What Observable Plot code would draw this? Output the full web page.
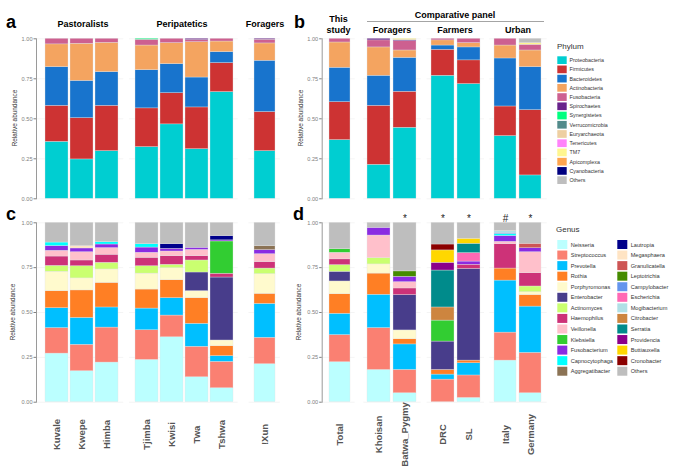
<!DOCTYPE html>
<html><head><meta charset="utf-8">
<script src="https://cdn.jsdelivr.net/npm/d3@7"></script>
<script src="https://cdn.jsdelivr.net/npm/@observablehq/plot@0.6"></script>
<style>
body{margin:0;background:#fff;font-family:"Liberation Sans",Arial,sans-serif}
#chart{position:relative;width:685px;height:469px;overflow:hidden}
#chart svg{position:absolute;left:0;top:0}
</style>
</head><body><div id="chart"></div>
<script>
// ---------- categories ----------
const pastoralists = ["Kuvale","Kwepe","Himba"];
const peripatetics = ["Tjimba","Kwisi","Twa","Tshwa"];
const foragersStudy = ["!Xun"];
const thisStudy = ["Total"];
const comparativeForagers = ["Khoisan","Batwa_Pygmy"];
const farmers = ["DRC","SL"];
const urban = ["Italy","Germany"];
const populations = [...pastoralists, ...peripatetics, ...foragersStudy];
const comparatives = [...thisStudy, ...comparativeForagers, ...farmers, ...urban];
const sigSamples = ["Batwa_Pygmy","DRC","SL","Italy","Germany"];
const sigMarks = ["*","*","*","#","*"];
const yTicks = [0, 0.25, 0.5, 0.75, 1];

const phyla = ["Proteobacteria","Firmicutes","Bacteroidetes","Actinobacteria","Fusobacteria","Spirochaetes","Synergistetes","Verrucomicrobia","Euryarchaeota","Tenericutes","TM7","Apicomplexa","Cyanobacteria","Others"];
const phylumColors = ["#00CED1","#CD3333","#1874CD","#F4A460","#CD6090","#68228B","#00FF7F","#528B8B","#EECFA1","#FF83FA","#FFF68F","#FFA54F","#000080","#BEBEBE"];

const genera = ["Neisseria","Streptococcus","Prevotella","Rothia","Porphyromonas","Enterobacter","Actinomyces","Haemophilus","Veillonella","Klebsiella","Fusobacterium","Capnocytophaga","Aggregatibacter","Lautropia","Megasphaera","Granulicatella","Leptotrichia","Campylobacter","Escherichia","Mogibacterium","Citrobacter","Serratia","Providencia","Buttiauxella","Cronobacter","Others"];
const genusColors = ["#BBFFFF","#FA8072","#00BFFF","#FF7F24","#FFFACD","#483D8B","#CAFF70","#CD3278","#FFC0CB","#32CD32","#8A2BE2","#00FFFF","#8B7355","#00008B","#FFE4C4","#CD5555","#458B00","#6495ED","#FF69B4","#B0E0E6","#CD853F","#008B8B","#8B008B","#FFD700","#8B0000","#BEBEBE"];

// ---------- values (rows aligned with sample lists, columns with taxa lists) ----------
const phylumPopulations = [
  [.356,.225,.242,.142,.035,0,0,0,0,0,0,0,0,0],   // Kuvale
  [.246,.258,.233,.232,.031,0,0,0,0,0,0,0,0,0],   // Kwepe
  [.298,.283,.211,.183,.025,0,0,0,0,0,0,0,0,0],   // Himba
  [.323,.242,.239,.154,.036,0,.006,0,0,0,0,0,0,0],// Tjimba
  [.465,.195,.182,.131,.027,0,0,0,0,0,0,0,0,0],   // Kwisi
  [.310,.261,.187,.221,.013,.008,0,0,0,0,0,0,0,0],// Twa
  [.667,.181,.069,.066,.017,0,0,0,0,0,0,0,0,0],   // Tshwa
  [.298,.244,.321,.108,.023,.006,0,0,0,0,0,0,0,0] // !Xun
];
const phylumComparatives = [
  [.367,.237,.215,.158,.023,0,0,0,0,0,0,0,0,0],     // Total
  [.2125,.3685,.188,.177,.044,.010,0,0,0,0,0,0,0,0],// Khoisan
  [.444,.225,.212,.046,.058,.007,0,0,0,0,.008,0,0,0],// Batwa_Pygmy
  [.769,.162,.027,.032,.010,0,0,0,0,0,0,0,0,0],     // DRC
  [.717,.148,.081,.027,.027,0,0,0,0,0,0,0,0,0],     // SL
  [.392,.185,.300,.081,.042,0,0,0,0,0,0,0,0,0],     // Italy
  [.146,.408,.269,.104,.0355,0,0,0,0,0,.0105,0,0,.027] // Germany
];
const genusPopulations = [
  [.271,.142,.111,.095,.108,0,.033,.052,.032,0,.026,.020,0,0,0,0,0,0,0,0,0,0,0,0,0,.110], // Kuvale
  [.173,.147,.150,.153,.067,0,.068,.032,.046,0,.021,0,0,0,.013,0,0,0,0,0,0,0,0,0,0,.130], // Kwepe
  [.221,.195,.112,.137,.075,0,.037,.045,.037,0,.020,.013,0,0,0,0,0,0,0,0,0,0,0,0,0,.108], // Himba
  [.236,.165,.121,.106,.089,0,.041,.047,.028,0,.029,.019,0,0,0,0,0,0,0,0,0,0,0,0,0,.119], // Tjimba
  [.362,.121,.097,.100,.067,0,.019,.048,.026,0,.015,0,0,.026,0,0,0,0,0,0,0,0,0,0,0,.119], // Kwisi
  [.139,.170,.128,.143,.039,.104,.067,.024,.035,0,.012,0,0,0,0,0,0,0,0,0,0,0,0,0,0,.139], // Twa
  [.078,.147,.032,.055,.032,.351,0,.021,0,.180,.006,0,0,.024,0,0,0,0,0,0,0,0,0,0,0,.074], // Tshwa
  [.212,.147,.189,.056,.110,0,.031,.036,.044,0,.023,0,.022,0,0,0,0,0,0,0,0,0,0,0,0,.130]  // !Xun
];
const genusComparatives = [
  [.223,.151,.119,.109,.071,.054,.037,.032,.037,.020,0,0,0,0,0,0,0,0,0,0,0,0,0,0,0,.147], // Total
  [.180,.233,.186,.118,.051,0,.035,0,.126,0,.043,0,0,0,0,0,0,0,0,0,0,0,0,0,0,.028],      // Khoisan
  [.050,.130,.142,.029,.049,.197,0,.037,.035,0,.030,0,0,0,0,0,.030,0,0,0,0,0,0,0,0,.271],// Batwa_Pygmy
  [0,.126,.028,.026,0,.158,0,0,0,.117,0,0,0,0,0,0,0,0,0,0,.073,.206,.043,.069,.033,.121],// DRC
  [.024,.125,.068,.015,0,.511,0,.023,0,0,.018,0,0,0,0,0,0,0,.047,0,0,.052,0,.028,0,.089],// SL
  [.232,.156,.290,.067,0,0,0,.136,.013,0,.032,.011,0,0,0,0,0,.007,0,.010,0,0,0,0,0,.046],// Italy
  [.050,.225,.258,.064,.016,0,.032,.074,.117,0,.022,0,0,0,0,.025,0,0,0,0,0,0,0,0,0,.117] // Germany
];

// ---------- build ----------
function toRows(samples, matrix, taxa) {
  return samples.flatMap((s, i) => taxa.map((t, j) => ({sample: s, taxon: t, value: matrix[i][j]}))).filter(d => d.value > 0);
}
const phylumRowsPop = toRows(populations, phylumPopulations, phyla);
const phylumRowsCmp = toRows(comparatives, phylumComparatives, phyla);
const genusRowsPop = toRows(populations, genusPopulations, genera);
const genusRowsCmp = toRows(comparatives, genusComparatives, genera);
const sigRows = sigSamples.map((s, i) => ({sample: s, mark: sigMarks[i]}));

const chart = document.getElementById("chart");
const BW = 23.3;
const FONT = "'Liberation Sans', Arial, sans-serif";

function groupPlot({samples, rows, taxa, colors, top, bottom, x0, step, axisLeft = null, xLabels = false, sig = false}) {
  const n = samples.length;
  const x1 = x0 + step * n - (step - BW);
  const data = rows.filter(d => samples.includes(d.sample));
  const marks = [
    Plot.gridY(yTicks, {stroke: "#ededed", strokeOpacity: 1, strokeWidth: 0.6}),
    Plot.barY(data, {x: "sample", y: "value", fill: "taxon", stroke: "#e2e2e2", strokeWidth: 0.35})
  ];
  if (axisLeft != null) {
    marks.push(Plot.axisY({ticks: yTicks, tickFormat: d3.format(".2f"), tickSize: 2.5, tickPadding: 1.5, fontSize: 5.6, color: "#808080", label: null}));
    marks.push(Plot.frame({anchor: "left", stroke: "#808080", strokeWidth: 0.8}));
  }
  if (xLabels) {
    marks.push(Plot.axisX({tickSize: 0, tickRotate: -90, textAnchor: "middle", lineAnchor: "middle", tickPadding: 32.3, fontSize: 9.5, fontWeight: "bold", fill: "#555", label: null}));
  }
  if (sig) {
    const s = sigRows.filter(d => samples.includes(d.sample));
    marks.push(Plot.text(s, {x: "sample", text: "mark", frameAnchor: "top", dy: -8, fontSize: 10, fill: "#222"}));
  }
  const svg = Plot.plot({
    width: 685, height: 469,
    marginTop: top, marginBottom: 469 - bottom,
    marginLeft: axisLeft != null ? axisLeft : x0 - 4,
    marginRight: 685 - x1 - 4,
    x: {type: "band", domain: samples, range: [x0, x1], paddingInner: (step - BW) / step, paddingOuter: 0, axis: null},
    y: {domain: [0, 1], axis: null},
    color: {domain: taxa, range: colors},
    style: {background: "transparent", overflow: "visible", fontFamily: FONT},
    marks
  });
  chart.appendChild(svg);
}

const topA = 38.3, botA = 198.3, topC = 222.3, botC = 401.7;
const layoutPop = [[pastoralists, 44.3, 36], [peripatetics, 133, null], [foragersStudy, 252.5, null]];
const layoutCmp = [[thisStudy, 327.3, 321.7], [comparativeForagers, 367.3, null], [farmers, 430.7, null], [urban, 493.3, null]];

for (const [samples, x0, ax] of layoutPop) {
  groupPlot({samples, rows: phylumRowsPop, taxa: phyla, colors: phylumColors, top: topA, bottom: botA, x0, step: 25.8, axisLeft: ax});
  groupPlot({samples, rows: genusRowsPop, taxa: genera, colors: genusColors, top: topC, bottom: botC, x0, step: 25.8, axisLeft: ax, xLabels: true});
}
for (const [samples, x0, ax] of layoutCmp) {
  groupPlot({samples, rows: phylumRowsCmp, taxa: phyla, colors: phylumColors, top: topA, bottom: botA, x0, step: 26, axisLeft: ax});
  groupPlot({samples, rows: genusRowsCmp, taxa: genera, colors: genusColors, top: topC, bottom: botC, x0, step: 26, axisLeft: ax, xLabels: true, sig: true});
}

// ---------- overlay text, headers, legends ----------
const ov = d3.select(chart).append("svg").attr("width", 685).attr("height", 469)
  .style("font-family", FONT);
function txt(x, y, s, opt = {}) {
  const t = ov.append("text").attr("x", x).attr("y", y).text(s)
    .attr("font-size", opt.size || 9).attr("font-weight", opt.bold ? "bold" : "normal")
    .attr("fill", opt.fill || "#000").attr("text-anchor", opt.anchor || "start");
  if (opt.rotate) t.attr("transform", `rotate(${opt.rotate},${x},${y})`).attr("dominant-baseline", "middle");
  return t;
}
// panel letters
txt(6, 28, "a", {size: 18, bold: true});
txt(294, 28, "b", {size: 18, bold: true});
txt(6, 220, "c", {size: 18, bold: true});
txt(293, 220, "d", {size: 18, bold: true});
// headers
txt(83, 27, "Pastoralists", {size: 9, bold: true, anchor: "middle"});
txt(182, 27, "Peripatetics", {size: 9, bold: true, anchor: "middle"});
txt(265, 27, "Foragers", {size: 9, bold: true, anchor: "middle"});
txt(338.5, 22, "This", {size: 9, bold: true, anchor: "middle"});
txt(338.5, 33, "study", {size: 9, bold: true, anchor: "middle"});
txt(455, 18, "Comparative panel", {size: 9, bold: true, anchor: "middle"});
ov.append("line").attr("x1", 367).attr("x2", 544).attr("y1", 21.5).attr("y2", 21.5).attr("stroke", "#9a9a9a").attr("stroke-width", 0.9);
txt(392, 33, "Foragers", {size: 9, bold: true, anchor: "middle"});
txt(455, 33, "Farmers", {size: 9, bold: true, anchor: "middle"});
txt(518, 33, "Urban", {size: 9, bold: true, anchor: "middle"});
// y labels
txt(15.5, 118, "Relative abundance", {size: 6.4, fill: "#333", anchor: "middle", rotate: -90});
txt(301.5, 118, "Relative abundance", {size: 6.4, fill: "#333", anchor: "middle", rotate: -90});
txt(13.5, 312, "Relative abundance", {size: 6.4, fill: "#333", anchor: "middle", rotate: -90});
txt(299.5, 312, "Relative abundance", {size: 6.4, fill: "#333", anchor: "middle", rotate: -90});

// Phylum legend
txt(557, 49, "Phylum", {size: 8, fill: "#333"});
phyla.forEach((p, i) => {
  const y = 56.3 + i * 9.23;
  ov.append("rect").attr("x", 557.3).attr("y", y).attr("width", 9.4).attr("height", 7.7).attr("fill", phylumColors[i]);
  txt(569.5, y + 5.8, p, {size: 5.3, fill: "#333"});
});
// Genus legend
txt(556, 232, "Genus", {size: 8, fill: "#333"});
genera.forEach((g, i) => {
  const col = i < 13 ? 0 : 1, row = i % 13;
  const x = col ? 617.3 : 557.3, y = 240 + row * 10.56;
  ov.append("rect").attr("x", x).attr("y", y).attr("width", 10).attr("height", 9).attr("fill", genusColors[i]);
  txt(x + 13.4, y + 6.5, g, {size: 5.6, fill: "#333"});
});
</script></body></html>
